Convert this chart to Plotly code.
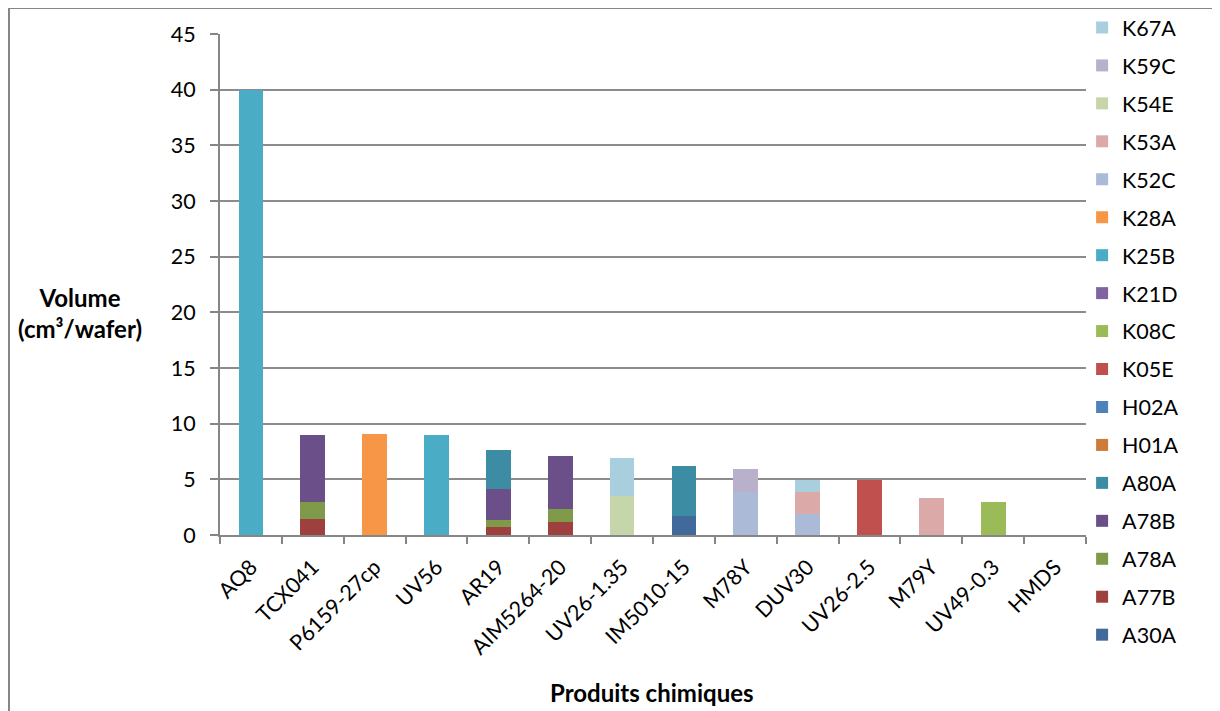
import plotly.graph_objects as go

categories = ["AQ8", "TCX041", "P6159-27cp", "UV56", "AR19", "AIM5264-20", "UV26-1.35",
              "IM5010-15", "M78Y", "DUV30", "UV26-2.5", "M79Y", "UV49-0.3", "HMDS"]

# series in stacking order (bottom to top); legend shows them reversed
series_names = ["A30A", "A77B", "A78A", "A78B", "A80A", "H01A", "H02A", "K05E", "K08C",
                "K21D", "K25B", "K28A", "K52C", "K53A", "K54E", "K59C", "K67A"]

A30A = [0, 0, 0, 0, 0, 0, 0, 1.74, 0, 0, 0, 0, 0, 0]
A77B = [0, 1.44, 0, 0, 0.68, 1.13, 0, 0, 0, 0, 0, 0, 0, 0]
A78A = [0, 1.55, 0, 0, 0.69, 1.2, 0, 0, 0, 0, 0, 0, 0, 0]
A78B = [0, 6.0, 0, 0, 2.76, 4.8, 0, 0, 0, 0, 0, 0, 0, 0]
A80A = [0, 0, 0, 0, 3.53, 0, 0, 4.46, 0, 0, 0, 0, 0, 0]
H01A = [0, 0, 0, 0, 0, 0, 0, 0, 0, 0, 0, 0, 0, 0]
H02A = [0, 0, 0, 0, 0, 0, 0, 0, 0, 0, 0, 0, 0, 0]
K05E = [0, 0, 0, 0, 0, 0, 0, 0, 0, 0, 4.95, 0, 0, 0]
K08C = [0, 0, 0, 0, 0, 0, 0, 0, 0, 0, 0, 0, 2.97, 0]
K21D = [0, 0, 0, 0, 0, 0, 0, 0, 0, 0, 0, 0, 0, 0]
K25B = [40, 0, 0, 9.0, 0, 0, 0, 0, 0, 0, 0, 0, 0, 0]
K28A = [0, 0, 9.05, 0, 0, 0, 0, 0, 0, 0, 0, 0, 0, 0]
K52C = [0, 0, 0, 0, 0, 0, 0, 0, 3.86, 1.92, 0, 0, 0, 0]
K53A = [0, 0, 0, 0, 0, 0, 0, 0, 0, 1.97, 0, 3.33, 0, 0]
K54E = [0, 0, 0, 0, 0, 0, 3.47, 0, 0, 0, 0, 0, 0, 0]
K59C = [0, 0, 0, 0, 0, 0, 0, 0, 2.07, 0, 0, 0, 0, 0]
K67A = [0, 0, 0, 0, 0, 0, 3.48, 0, 0, 1.02, 0, 0, 0, 0]

series_values = [A30A, A77B, A78A, A78B, A80A, H01A, H02A, K05E, K08C,
                 K21D, K25B, K28A, K52C, K53A, K54E, K59C, K67A]

series_colors = ["#41699A", "#9E403E", "#7F9A48", "#6A4F89", "#3C8DA3", "#CC7B38", "#4F81BD",
                 "#C0504D", "#9BBB59", "#8064A2", "#4BACC6", "#F79646", "#AABAD7", "#DBA9A8",
                 "#C6D5AA", "#B9B0CC", "#A9CFDE"]

y_ticks = [0, 5, 10, 15, 20, 25, 30, 35, 40, 45]

FONT = "Lato, 'Open Sans', sans-serif"
TICK_SIZE = 21.5
TITLE_SIZE = 24

n = len(series_names)
fig = go.Figure()
for i, (name, vals, col) in enumerate(zip(series_names, series_values, series_colors)):
    fig.add_trace(go.Bar(
        x=categories, y=vals, name=name, legendgroup=name,
        legendrank=n - i,
        marker=dict(color=col, line=dict(width=0)),
    ))

# the page body adds an 8px margin; the figure is sized to compensate
W, H = 1212, 703
L, R, T, B = 212, 134, 26, 176
pw, ph = W - L - R, H - T - B

fig.update_layout(
    width=W, height=H,
    barmode="stack", bargap=0.6,
    plot_bgcolor="white", paper_bgcolor="white",
    margin=dict(l=L, r=R, t=T, b=B, autoexpand=False),
    font=dict(family=FONT, size=TICK_SIZE, color="#000000"),
    showlegend=True,
    legend=dict(
        x=0.9955, xanchor="left", y=(H - B + 1) / ph, yanchor="top",
        traceorder="grouped", tracegroupgap=7,
        font=dict(family=FONT, size=TICK_SIZE, color="#000000"),
        bgcolor="rgba(0,0,0,0)", maxheight=700,
    ),
    xaxis=dict(
        type="category", tickangle=-45, tickson="boundaries",
        ticks="outside", ticklen=7, tickcolor="#868686", tickwidth=2,
        showline=True, linecolor="#868686", linewidth=2,
        showgrid=False, tickfont=dict(family=FONT, size=TICK_SIZE),
        ticklabelstandoff=9,
        range=[-0.5, len(categories) - 0.5],
    ),
    yaxis=dict(
        range=[0, 45], tickvals=y_ticks,
        ticks="outside", ticklen=8, tickcolor="#868686", tickwidth=2,
        showline=True, linecolor="#868686", linewidth=2,
        showgrid=True, gridcolor="#8C8C8C", gridwidth=2,
        zeroline=False, tickfont=dict(family=FONT, size=TICK_SIZE),
        ticklabelstandoff=10,
    ),
)

# axis titles
fig.add_annotation(
    xref="paper", yref="paper", x=(72 - L) / pw, y=(H - B - 305) / ph,
    text="<b>Volume<br>(cm³/wafer)</b>", showarrow=False,
    font=dict(family=FONT, size=TITLE_SIZE, color="#000000"), align="center",
    xanchor="center", yanchor="middle",
)
fig.add_annotation(
    xref="paper", yref="paper", x=(644 - L) / pw, y=(H - B - 684) / ph,
    text="<b>Produits chimiques</b>", showarrow=False,
    font=dict(family=FONT, size=TITLE_SIZE, color="#000000"),
    xanchor="center", yanchor="middle",
)

# outer chart frame
fig.add_shape(
    type="rect", xref="paper", yref="paper",
    x0=(1 - L) / pw, x1=(W + 5 - L) / pw,
    y0=(H - B - (H + 5)) / ph, y1=(H - B - 0) / ph,
    line=dict(color="#868686", width=2), fillcolor="rgba(0,0,0,0)", layer="below",
)

fig.write_html("out.html")
